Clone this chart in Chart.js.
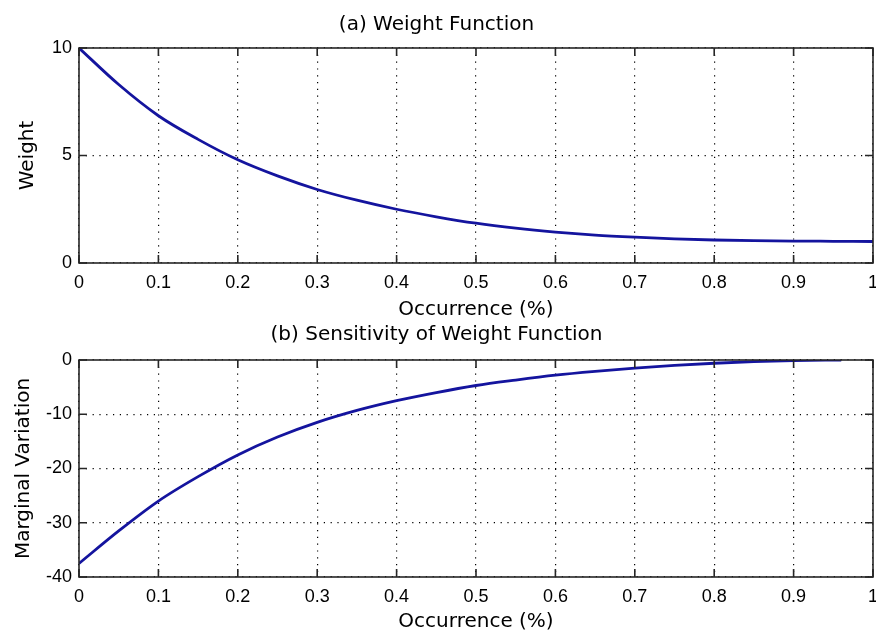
<!DOCTYPE html>
<html>
<head>
<meta charset="utf-8">
<script src="https://cdn.jsdelivr.net/npm/chart.js@4.4.1/dist/chart.umd.min.js"></script>
<style>
  body { margin: 0; background: #fff; width: 876px; height: 634px; overflow: hidden; }
  .panel { position: absolute; left: 0; width: 876px; }
  #top { top: 0; height: 322px; }
  #bottom { top: 322px; height: 312px; }
</style>
</head>
<body>
<div class="panel" id="top"><canvas id="chartA"></canvas></div>
<div class="panel" id="bottom"><canvas id="chartB"></canvas></div>
<script>
// (a) weight function
const weightX = [0, 0.05, 0.1, 0.15, 0.2, 0.25, 0.3, 0.35, 0.4, 0.45, 0.5, 0.55, 0.6, 0.65, 0.7, 0.75, 0.8, 0.85, 0.9, 0.95, 1];
const weightY = [10, 8.3, 6.85, 5.75, 4.8, 4.05, 3.42, 2.92, 2.5, 2.15, 1.85, 1.62, 1.44, 1.3, 1.2, 1.12, 1.07, 1.04, 1.02, 1.01, 1.0];

// (b) sensitivity (marginal variation)
const sensX = [0, 0.05, 0.1, 0.15, 0.2, 0.25, 0.3, 0.35, 0.4, 0.45, 0.5, 0.55, 0.6, 0.65, 0.7, 0.75, 0.8, 0.85, 0.9, 0.96];
const sensY = [-37.5, -31.5, -26, -21.5, -17.5, -14.2, -11.5, -9.3, -7.5, -6, -4.7, -3.7, -2.8, -2.1, -1.5, -1, -0.6, -0.3, -0.1, 0];

const xTicks = [0, 0.1, 0.2, 0.3, 0.4, 0.5, 0.6, 0.7, 0.8, 0.9, 1];

const tickFont = { family: 'Liberation Sans', size: 18 };
const labelFont = { family: 'DejaVu Sans', size: 20, weight: 'normal' };

// box around the axes + inward tick marks, matlab style
const matlabBox = {
  id: 'matlabBox',
  afterDraw(chart) {
    const { ctx, chartArea: a, scales: { x, y } } = chart;
    ctx.save();
    ctx.strokeStyle = '#262626';
    ctx.lineWidth = 1.6;
    ctx.strokeRect(a.left, a.top, a.right - a.left, a.bottom - a.top);
    ctx.beginPath();
    x.ticks.forEach(t => {
      const px = x.getPixelForValue(t.value);
      ctx.moveTo(px, a.bottom); ctx.lineTo(px, a.bottom - 8);
      ctx.moveTo(px, a.top); ctx.lineTo(px, a.top + 8);
    });
    y.ticks.forEach(t => {
      const py = y.getPixelForValue(t.value);
      ctx.moveTo(a.left, py); ctx.lineTo(a.left + 8, py);
      ctx.moveTo(a.right, py); ctx.lineTo(a.right - 8, py);
    });
    ctx.stroke();
    ctx.restore();
  }
};

function makeChart(id, cfg) {
  const points = cfg.xs.map((v, i) => ({ x: v, y: cfg.ys[i] }));
  return new Chart(document.getElementById(id), {
    type: 'line',
    data: {
      datasets: [{
        data: points,
        borderColor: '#14149e',
        borderWidth: 2.8,
        pointRadius: 0,
        fill: false,
        cubicInterpolationMode: 'monotone'
      }]
    },
    options: {
      responsive: true,
      maintainAspectRatio: false,
      animation: false,
      layout: { padding: { left: 0, right: 3, top: 0, bottom: 0 } },
      plugins: {
        legend: { display: false },
        tooltip: { enabled: false },
        title: {
          display: true,
          text: cfg.title,
          color: '#000',
          font: labelFont,
          padding: { top: cfg.titleTop, bottom: cfg.titleBottom }
        }
      },
      scales: {
        x: {
          type: 'linear',
          min: 0,
          max: 1,
          afterBuildTicks: s => { s.ticks = xTicks.map(v => ({ value: v })); },
          ticks: {
            padding: 9,
            color: '#000',
            font: tickFont,
            maxRotation: 0,
            autoSkip: false,
            callback: v => String(Math.round(v * 10) / 10)
          },
          grid: { color: '#000', lineWidth: 1.2, drawTicks: false },
          border: { display: false, dash: [1.2, 5.6] },
          title: {
            display: true,
            text: 'Occurrence (%)',
            color: '#000',
            font: labelFont,
            padding: { top: 0, bottom: 0 }
          },
          afterFit: s => { s.height = cfg.xHeight; s.paddingLeft = 0; s.paddingRight = 0; }
        },
        y: {
          min: cfg.yMin,
          max: cfg.yMax,
          ticks: { stepSize: cfg.yStep, padding: 7, color: '#000', font: tickFont },
          grid: { color: '#000', lineWidth: 1.2, drawTicks: false },
          border: { display: false, dash: [1.2, 5.6] },
          title: {
            display: true,
            text: cfg.yLabel,
            color: '#000',
            font: labelFont,
            padding: { top: cfg.yTitlePad, bottom: 0 }
          },
          afterFit: s => { s.width = 79; }
        }
      }
    },
    plugins: [matlabBox]
  });
}

makeChart('chartA', {
  xs: weightX, ys: weightY,
  title: '(a) Weight Function', titleTop: 13, titleBottom: 11,
  yLabel: 'Weight', yMin: 0, yMax: 10, yStep: 5, yTitlePad: 16,
  xHeight: 59
});

makeChart('chartB', {
  xs: sensX, ys: sensY,
  title: '(b) Sensitivity of Weight Function', titleTop: 1, titleBottom: 13,
  yLabel: 'Marginal Variation', yMin: -40, yMax: 0, yStep: 10, yTitlePad: 12,
  xHeight: 57
});
</script>
</body>
</html>
